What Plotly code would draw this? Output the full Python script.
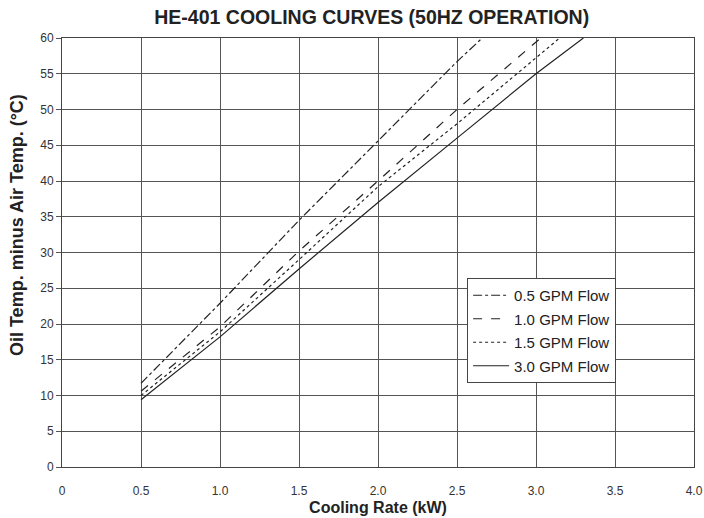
import plotly.graph_objects as go

series_names = ["0.5 GPM Flow", "1.0 GPM Flow", "1.5 GPM Flow", "3.0 GPM Flow"]
x_05 = [0.5, 1.0, 1.5, 2.0, 2.5, 2.66]
y_05 = [11.7, 22.9, 34.5, 45.6, 56.7, 60]
x_10 = [0.5, 1.0, 1.5, 2.0, 2.5, 3.03]
y_10 = [10.6, 19.6, 30.2, 40.0, 50.0, 60]
x_15 = [0.5, 1.0, 1.5, 2.0, 2.5, 3.15]
y_15 = [10.0, 18.9, 29.0, 39.2, 48.0, 60]
x_30 = [0.5, 1.0, 1.5, 2.0, 2.5, 3.0, 3.3]
y_30 = [9.4, 18.2, 27.7, 37.0, 46.0, 55.0, 60]

x_tickvals = [0, 0.5, 1.0, 1.5, 2.0, 2.5, 3.0, 3.5, 4.0]
x_ticktext = ["0", "0.5", "1.0", "1.5", "2.0", "2.5", "3.0", "3.5", "4.0"]
y_tickvals = list(range(0, 61, 5))

dashes = ["dashdot", "dash", "dot", "solid"]
xs = [x_05, x_10, x_15, x_30]
ys = [y_05, y_10, y_15, y_30]

fig = go.Figure()
for i, (name, x, y, d) in enumerate(zip(series_names, xs, ys, dashes)):
    fig.add_trace(go.Scatter(x=x, y=y, mode="lines", name=name, legendgroup=f"g{i}",
                             line=dict(color="#222222", width=1.2, dash=d)))

font_family = "Liberation Sans, Arial, sans-serif"
fig.update_layout(
    width=704, height=518,
    margin=dict(l=62, r=10, t=38, b=51, autoexpand=False),
    paper_bgcolor="white", plot_bgcolor="white",
    font=dict(family=font_family, color="#222222", size=12),
    title=dict(text="<b>HE-401 COOLING CURVES (50HZ OPERATION)</b>",
               x=0.528, xanchor="center", y=0.966, yanchor="middle",
               font=dict(size=19.5, color="#222222")),
    showlegend=True,
    legend=dict(x=0.641, y=0.4406, xanchor="left", yanchor="top",
                bordercolor="#444444", borderwidth=1, bgcolor="white",
                font=dict(size=15, color="#222222"),
                tracegroupgap=1, itemwidth=36),
    annotations=[dict(text="<b>Oil Temp. minus Air Temp. (°C)</b>", textangle=-90,
                      xref="paper", yref="paper", x=-0.0712, y=0.564,
                      xanchor="center", yanchor="middle", showarrow=False,
                      font=dict(size=18, color="#222222"))],
)
fig.update_xaxes(
    range=[0, 4.0], tickvals=x_tickvals, ticktext=x_ticktext,
    showgrid=True, gridcolor="#555555", gridwidth=1,
    showline=True, linecolor="#444444", linewidth=1, mirror=True,
    zeroline=False, ticks="", ticklen=0, ticklabelstandoff=13, automargin=False,
    ticklabeloverflow="allow",
    tickfont=dict(size=12, color="#333333"),
    title=dict(text="<b>Cooling Rate (kW)</b>", font=dict(size=16, color="#222222"), standoff=4),
)
fig.update_yaxes(
    range=[0, 60], tickvals=y_tickvals,
    showgrid=True, gridcolor="#555555", gridwidth=1,
    showline=True, linecolor="#444444", linewidth=1, mirror=True,
    zeroline=False, ticks="outside", ticklen=5, tickcolor="#555555", automargin=False,
    tickfont=dict(size=12, color="#333333"),
)
fig.write_html("out.html",
               config={"displayModeBar": False},
               post_script="document.body.style.margin='0';document.body.style.overflow='hidden';")
